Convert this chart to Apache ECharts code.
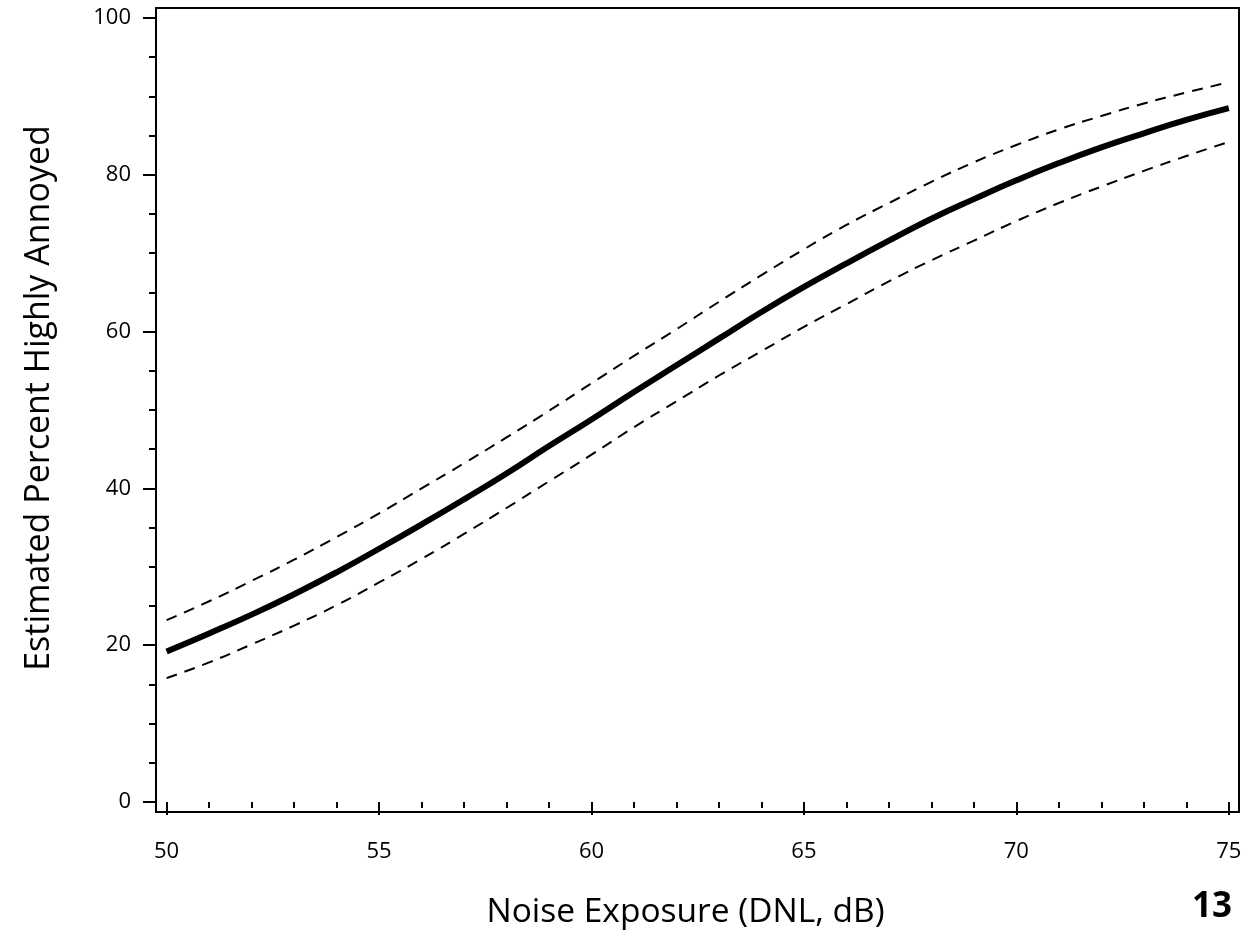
<!DOCTYPE html>
<html><head><meta charset="utf-8">
<script src="https://cdn.jsdelivr.net/npm/echarts@6/dist/echarts.min.js"></script>
<style>html,body{margin:0;padding:0;background:#fff}#c{width:1258px;height:934px}</style>
</head><body><div id="c"></div>
<script>
// Noise exposure (DNL, dB)
const xValues = [50,51,52,53,54,55,56,57,58,59,60,61,62,63,64,65,66,67,68,69,70,71,72,73,74,75];
// Estimated percent highly annoyed (solid line)
const estimate = [19.2,21.5,23.9,26.5,29.3,32.3,35.4,38.6,41.9,45.4,48.8,52.3,55.7,59.1,62.5,65.7,68.7,71.6,74.4,76.9,79.3,81.5,83.5,85.3,87.0,88.5];
// Upper confidence limit (dashed)
const upperLimit = [23.2,25.6,28.2,30.9,33.8,36.8,40.0,43.2,46.5,49.9,53.4,56.9,60.3,63.8,67.2,70.5,73.6,76.4,79.1,81.6,83.8,85.8,87.5,89.1,90.5,91.8];
// Lower confidence limit (dashed)
const lowerLimit = [15.8,17.8,20.1,22.5,25.1,28.0,31.0,34.2,37.5,40.9,44.3,47.8,51.1,54.4,57.5,60.6,63.5,66.4,69.1,71.6,74.1,76.4,78.5,80.5,82.4,84.2];
// Tick labels / tick positions
const xMajorTicks = [50,55,60,65,70,75];
const xMinorTicks = [51,52,53,54,56,57,58,59,61,62,63,64,66,67,68,69,71,72,73,74];
const yMajorTicks = [0,20,40,60,80,100];
const yMinorTicks = [5,10,15,25,30,35,45,50,55,65,70,75,85,90,95];
const xTitle = 'Noise Exposure (DNL, dB)';
const yTitle = 'Estimated Percent Highly Annoyed';
const pageNumber = '13';

const FONT = 'Open Sans';
const X_MIN = 49.75, X_MAX = 75.24, Y_MIN = -1.28, Y_MAX = 101.28;
function pairs(ys){ return xValues.map((x,i)=>[x, ys[i]]); }

const chart = echarts.init(document.getElementById('c'), null, {renderer:'canvas'});
const option = {
  animation:false,
  backgroundColor:'#ffffff',
  grid:{left:156,right:19,top:8,bottom:122,show:true,borderColor:'#000',borderWidth:2,backgroundColor:'transparent'},
  xAxis:[
    {type:'value',min:X_MIN,max:X_MAX,position:'bottom',
     axisLine:{show:false},splitLine:{show:false},
     axisTick:{show:true,customValues:xMajorTicks,length:13,lineStyle:{color:'#000',width:2}},
     axisLabel:{customValues:xMajorTicks,color:'#000',fontSize:22,fontFamily:FONT,margin:29},
     name:xTitle,nameLocation:'middle',nameGap:83,
     nameTextStyle:{color:'#000',fontSize:33.5,fontFamily:FONT,padding:[0,24,0,0]}},
    {type:'value',min:X_MIN,max:X_MAX,position:'bottom',
     axisLine:{show:false},splitLine:{show:false},
     axisTick:{show:true,customValues:xMinorTicks,length:6,lineStyle:{color:'#000',width:2}},
     axisLabel:{show:false}}
  ],
  yAxis:[
    {type:'value',min:Y_MIN,max:Y_MAX,position:'left',
     axisLine:{show:false},splitLine:{show:false},
     axisTick:{show:true,customValues:yMajorTicks,length:13,lineStyle:{color:'#000',width:2}},
     axisLabel:{customValues:yMajorTicks,color:'#000',fontSize:22,fontFamily:FONT,margin:25},
     name:yTitle,nameLocation:'middle',nameGap:100,
     nameTextStyle:{color:'#000',fontSize:34,fontFamily:FONT,padding:[0,0,0,24]}},
    {type:'value',min:Y_MIN,max:Y_MAX,position:'left',
     axisLine:{show:false},splitLine:{show:false},
     axisTick:{show:true,customValues:yMinorTicks,length:7,lineStyle:{color:'#000',width:2}},
     axisLabel:{show:false}}
  ],
  graphic:[
    {type:'text',x:1212,y:907,style:{text:pageNumber,fill:'#000',font:'bold 35px "Open Sans"',align:'center',verticalAlign:'middle'}}
  ],
  series:[
    {name:'Upper',type:'line',xAxisIndex:0,yAxisIndex:0,data:pairs(upperLimit),showSymbol:false,smooth:true,
     lineStyle:{color:'#000',width:2,type:[11,8]}},
    {name:'Lower',type:'line',xAxisIndex:0,yAxisIndex:0,data:pairs(lowerLimit),showSymbol:false,smooth:true,
     lineStyle:{color:'#000',width:2,type:[11,8]}},
    {name:'Estimate',type:'line',xAxisIndex:0,yAxisIndex:0,data:pairs(estimate),showSymbol:false,smooth:true,
     lineStyle:{color:'#000',width:6}}
  ]
};
chart.setOption(option);
</script>
</body></html>
